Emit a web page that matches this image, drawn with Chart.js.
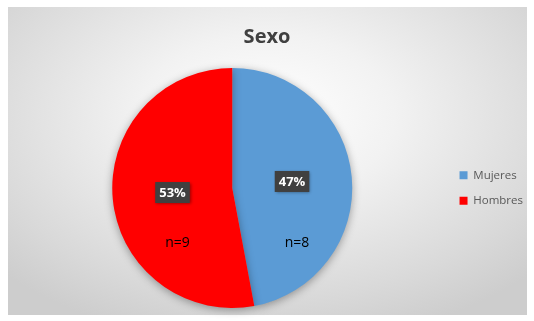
<!DOCTYPE html>
<html>
<head>
<meta charset="utf-8">
<script src="https://cdn.jsdelivr.net/npm/chart.js@4"></script>
<style>
    html, body { margin: 0; padding: 0; background: #ffffff; overflow: hidden; }
    #frame {
        position: absolute;
        left: 8px;
        top: 7px;
        width: 519px;
        height: 308px;
        background: radial-gradient(ellipse 70% 75% at 50% 35%, #ffffff 0%, #f2f2f2 35%, #d9d9d9 80%, #cdcdcd 100%);
    }
    #sexoChart { position: absolute; left: 0; top: 0; }
</style>
</head>
<body>
<div id="frame"></div>
<canvas id="sexoChart" width="534" height="321"></canvas>
<script>
const categories = ['Mujeres', 'Hombres'];
const counts = [8, 9];
const colors = ['#5B9BD5', '#FF0000'];

const total = counts.reduce(function (a, b) { return a + b; }, 0);

// shadow under the pie
const pieShadow = {
    id: 'pieShadow',
    beforeDatasetDraw: function (chart) {
        const ctx = chart.ctx;
        ctx.save();
        ctx.shadowColor = 'rgba(0, 0, 0, 0.35)';
        ctx.shadowBlur = 9;
        ctx.shadowOffsetY = 2;
    },
    afterDatasetDraw: function (chart) {
        chart.ctx.restore();
    }
};

// title sits centred on the whole frame, not on the area left of the legend
const titleShift = {
    id: 'titleShift',
    afterLayout: function (chart) {
        if (chart.titleBlock) {
            chart.titleBlock.left -= 9;
            chart.titleBlock.right -= 9;
        }
    }
};

// percent boxes and n= labels
const sliceLabels = {
    id: 'sliceLabels',
    afterDatasetsDraw: function (chart) {
        const ctx = chart.ctx;
        const meta = chart.getDatasetMeta(0);

        meta.data.forEach(function (arc, i) {
            const p = arc.getProps(['x', 'y', 'startAngle', 'endAngle', 'outerRadius']);
            const mid = (p.startAngle + p.endAngle) / 2;
            const lx = p.x + Math.cos(mid) * p.outerRadius * 0.5;
            const ly = p.y + Math.sin(mid) * p.outerRadius * 0.5 - 1;
            const pct = Math.round(counts[i] / total * 100) + '%';

            ctx.save();
            ctx.font = 'bold 13px "Open Sans"';
            const w = ctx.measureText(pct).width + 8;
            const h = 21;
            ctx.shadowColor = 'rgba(0, 0, 0, 0.4)';
            ctx.shadowBlur = 3;
            ctx.shadowOffsetX = 1;
            ctx.shadowOffsetY = 1;
            ctx.fillStyle = '#404040';
            ctx.fillRect(lx - w / 2, ly - h / 2, w, h);
            ctx.restore();

            ctx.save();
            ctx.font = 'bold 13px "Open Sans"';
            ctx.fillStyle = '#ffffff';
            ctx.textAlign = 'center';
            ctx.textBaseline = 'middle';
            ctx.fillText(pct, lx, ly + 1);

            ctx.font = '14px "Open Sans"';
            ctx.fillStyle = '#000000';
            ctx.fillText('n=' + counts[i], lx + 5, p.y + 55);
            ctx.restore();
        });
    }
};

new Chart(document.getElementById('sexoChart'), {
    type: 'pie',
    data: {
        labels: categories,
        datasets: [{
            data: counts,
            backgroundColor: colors,
            borderWidth: 0
        }]
    },
    options: {
        responsive: false,
        animation: false,
        layout: {
            padding: { left: 19, right: 1, top: 0, bottom: 13 }
        },
        plugins: {
            title: {
                display: true,
                text: 'Sexo',
                color: '#404040',
                font: { family: '"Open Sans"', size: 20, weight: 'bold' },
                padding: { top: 25, bottom: 19 }
            },
            legend: {
                position: 'right',
                title: {
                    display: true,
                    text: ' ',
                    font: { size: 11 },
                    padding: { top: 27, bottom: 28 }
                },
                labels: {
                    color: '#595959',
                    font: { family: '"Open Sans"', size: 11.5 },
                    boxWidth: 8,
                    boxHeight: 8,
                    padding: 14
                }
            },
            tooltip: { enabled: false }
        }
    },
    plugins: [pieShadow, titleShift, sliceLabels]
});
</script>
</body>
</html>
